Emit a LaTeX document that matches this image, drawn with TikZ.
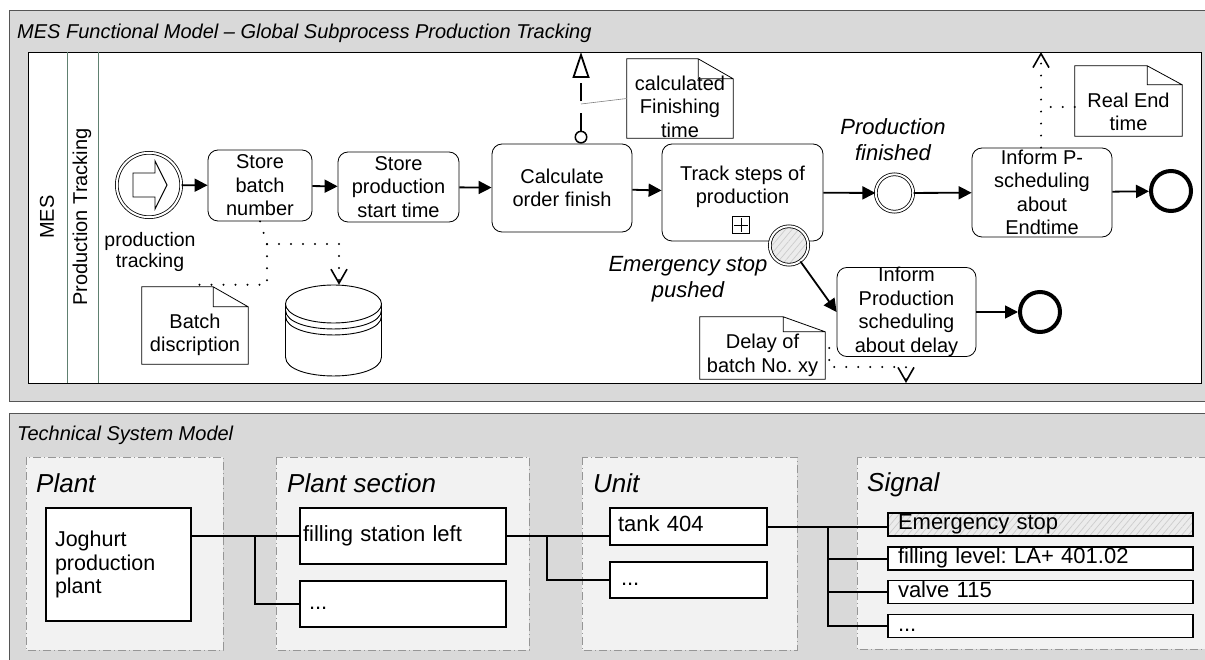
\documentclass[tikz,border=0pt]{standalone}
\usepackage{fontspec}
\setmainfont{Liberation Sans}
\usetikzlibrary{calc}
\usetikzlibrary{arrows.meta}
\usetikzlibrary{patterns.meta}
\definecolor{panelgray}{RGB}{217,217,217}
\definecolor{panelline}{RGB}{85,85,85}
\definecolor{contfill}{RGB}{242,242,242}
\definecolor{contline}{RGB}{150,150,150}
\definecolor{laneline}{RGB}{96,128,112}
\definecolor{hatchfill}{RGB}{236,236,236}
\frenchspacing

\begin{document}
\begin{tikzpicture}[x=1pt, y=-1pt,
        panel/.style={draw=panelline, fill=panelgray, line width=1pt},
        title/.style={anchor=base west, inner sep=0pt, font=\itshape\fontsize{20}{24}\selectfont},
        task/.style={draw, rounded corners=10pt, fill=white, align=center, inner sep=0pt, line width=0.8pt, font=\fontsize{20}{23.5}\selectfont},
        txt/.style={align=center, inner sep=0pt, font=\fontsize{20}{23.5}\selectfont},
        evlabel/.style={align=center, inner sep=0pt, font=\itshape\fontsize{22}{26}\selectfont},
        event/.style={circle, draw, fill=white, inner sep=0pt, line width=0.8pt, double, double distance=2pt, minimum size=#1},
        endevent/.style={circle, draw, fill=white, inner sep=0pt, line width=4pt, minimum size=40pt},
        hatched/.style={preaction={fill=hatchfill}, preaction={pattern={Lines[angle=50,distance=5pt,line width=0.7pt]}, pattern color=gray!40}},
        doc/.style={inner sep=0pt},
        seq/.style={line width=1.8pt, -{Triangle[length=13pt,width=13pt]}},
        msgflow/.style={line width=1.8pt, dash pattern=on 18pt off 12pt, {Circle[length=13pt,width=13pt,fill=white,line width=1.5pt]}-{Triangle[length=26pt,width=17pt,fill=white,line width=1.8pt]}},
        assoc/.style={draw=gray, line width=0.6pt},
        dotflow/.style={line width=2.2pt, dash pattern=on 0pt off 12pt, line cap=round},
        vtip/.style={-{Straight Barb[length=14pt,width=16pt,line width=1.6pt]}},
        container/.style={draw=contline, fill=contfill, line width=0.8pt, dash pattern=on 8pt off 3pt on 1pt off 3pt},
        grouplabel/.style={anchor=base west, inner sep=0pt, font=\itshape\fontsize{26}{30}\selectfont},
        sysbox/.style={draw, fill=white, line width=1.1pt, align=left, inner ysep=0pt, font=\fontsize{22}{23.5}\selectfont},
        oneline/.style={text height=15pt, text depth=4.5pt},
        tree/.style={line width=2pt}]
    \useasboundingbox (0,0) rectangle (1205,660);
    \clip (0,0) rectangle (1205,660);

    \draw[panel] (9,11) rectangle (1215,401);
    \draw[panel] (9,413) rectangle (1215,670);
    \node[title] (t1) at (17,39) {MES Functional Model – Global Subprocess Production Tracking};
    \node[title] (t2) at (17,440) {Technical System Model};

    \draw[line width=0.8pt, fill=white] (28,52) rectangle (1201,383);
    \draw[laneline, line width=0.8pt] (67,52) -- (67,383) (98,52) -- (98,383);
    \node[txt, rotate=90] (pool) at (47,217) {MES};
    \node[txt, rotate=90] (lane) at (82,217) {Production Tracking};

    \node[event=64.4pt] (st) at (149,185) {};
    \draw[line width=0.9pt, fill=white] ($(st)+(-16,-12)$) -- ++(22,0) -- ++(0,-12) -- ++(12,24)
        -- ++(-12,24) -- ++(0,-12) -- ++(-22,0) -- cycle;
    \node[txt, font=\fontsize{19.5}{21.5}\selectfont] (stl) at (150,252) {production\\tracking};

    \node[task, minimum width=104pt, minimum height=71pt] (sb) at (260,185.5) {Store\\batch\\number};
    \node[task, minimum width=121pt, minimum height=70pt] (sp) at (398.5,187) {Store\\production\\start time};
    \node[task, minimum width=140pt, minimum height=88pt] (cf) at (562,188) {Calculate\\order finish};
    \node[task, minimum width=161pt, minimum height=97pt] (ts) at (742.5,192.5) {};
    \node[txt] (tst) at (742.5,187) {Track steps of\\production};
    \node[draw, line width=0.8pt, minimum size=17pt, inner sep=0pt] (mk) at (741,225) {};
    \draw[line width=0.8pt] ([yshift=-2pt]mk.north) -- ([yshift=2pt]mk.south)
        ([xshift=2pt]mk.west) -- ([xshift=-2pt]mk.east);
    \node[event=37.4pt] (pf) at (894.5,193) {};
    \node[evlabel] (pfl) at (893,140) {Production\\finished};
    \node[task, minimum width=140pt, minimum height=89pt] (ipe) at (1042,192.5) {Inform P-\\scheduling\\about\\Endtime};
    \node[endevent] (e1) at (1171,191) {};
    \node[event=38.4pt, fill=none, hatched] (be) at (789,245.5) {};
    \node[evlabel] (bel) at (688,279.3) {Emergency stop\\pushed};
    \node[task, minimum width=139pt, minimum height=88pt] (ip) at (906.5,312) {Inform\\Production\\scheduling\\about delay};
    \node[endevent] (e2) at (1040,312) {};

    \node[doc, minimum width=106pt, minimum height=77pt] (bd) at (195,325.5) {};
    \node[doc, minimum width=106pt, minimum height=79pt] (cft) at (680,98.5) {};
    \node[doc, minimum width=107pt, minimum height=70pt] (ret) at (1128.5,101) {};
    \node[doc, minimum width=125pt, minimum height=62pt] (dly) at (762.5,348) {};
    \foreach \d/\fx/\fy in {bd/35/20, cft/35/20, ret/35/19, dly/42/15}
        \draw[line width=0.8pt, fill=white] (\d.north west) -- ([xshift=-\fx pt]\d.north east)
            -- ([yshift=-\fy pt]\d.north east) |- (\d.south west) -- cycle
            ([xshift=-\fx pt]\d.north east) |- ([yshift=-\fy pt]\d.north east);
    \node[txt] (bdt) at (195,335) {Batch\\discription};
    \node[txt] (cftt) at (680,106.5) {calculated\\Finishing\\time};
    \node[txt] (rett) at (1128.5,112) {Real End\\time};
    \node[txt] (dlyt) at (762.5,355.5) {Delay of\\batch No. xy};

    \node[inner sep=0pt, minimum width=96pt, minimum height=91pt] (ds) at (333.5,330.5) {};
    \draw[line width=0.9pt, fill=white] (285.5,304) -- (285.5,357)
        .. controls (285.5,382.3) and (381.5,382.3) .. (381.5,357) -- (381.5,304);
    \draw[line width=0.9pt, fill=white] (333.5,304) ellipse [x radius=48, y radius=19];
    \foreach \o in {6,12}
        \draw[line width=0.9pt] (285.5,304+\o) .. controls (285.5,329.3+\o) and (381.5,329.3+\o) .. (381.5,304+\o);

    \draw[seq] (st) -- (sb);
    \draw[seq] (sb) -- (sp);
    \draw[seq] (sp) -- (cf);
    \draw[seq] (cf) -- (ts);
    \draw[seq] (ts) -- (pf);
    \draw[seq] (pf) -- (ipe);
    \draw[seq] (ipe) -- (e1);
    \draw[seq] (be) -- (ip.west);
    \draw[seq] (ip) -- (e2);

    \coordinate (m1) at (581,52);
    \coordinate (m1a) at (581,104);
    \draw[msgflow] (m1 |- cf.north) -- (m1);
    \draw[assoc] (m1a) -- (cft.west);
    \coordinate (m2) at (1041,52);
    \draw[dotflow, vtip] (m2 |- ipe.north) -- (m2);
    \draw[dotflow] ([yshift=-6pt]ret.west) -- ++(-30,0);
    \coordinate (m3) at (906,383);
    \draw[dotflow, vtip] ([xshift=4pt]dly.east) -- ++(0,19) -| (m3);
    \coordinate (j1) at (267,244);
    \draw[dotflow] (sb.south) -- (j1) |- ([yshift=2pt]bd.north);
    \draw[dotflow, vtip] (j1) -| ([xshift=5.5pt]ds.north);

    \draw[container] (26,457) rectangle (223,650);
    \draw[container] (276,457) rectangle (529,650);
    \draw[container] (582,457) rectangle (797,650);
    \draw[container] (857,457) rectangle (1215,649);
    \node[grouplabel] (gpl) at (36,492) {Plant};
    \node[grouplabel] (gps) at (287,492) {Plant section};
    \node[grouplabel] (gun) at (593,492) {Unit};
    \node[grouplabel] (gsg) at (867,491) {Signal};

    \node[sysbox, text width=127pt, inner xsep=9pt, minimum height=113pt, font=\fontsize{21.5}{23.5}\selectfont] (jp) at (118.5,564.5) {Joghurt\\production\\plant};
    \node[sysbox, oneline, text width=200pt, inner xsep=3pt, minimum height=56pt] (fsl) at (403,536) {filling station left};
    \node[sysbox, oneline, text width=188pt, inner xsep=9pt, minimum height=46pt] (fs2) at (403,604) {...};
    \node[sysbox, oneline, text width=141pt, inner xsep=8pt, minimum height=37pt] (tk) at (688.5,526.5) {tank 404};
    \node[sysbox, oneline, text width=135pt, inner xsep=11pt, minimum height=36pt] (tk2) at (688.5,580) {...};
    \node[sysbox, oneline, text width=285pt, inner xsep=10pt, minimum height=23pt, fill=none, hatched] (es) at (1040.5,524.5) {Emergency stop};
    \node[sysbox, oneline, text width=285pt, inner xsep=10pt, minimum height=23pt] (fl) at (1040.5,558.5) {filling level: LA+ 401.02};
    \node[sysbox, oneline, text width=285pt, inner xsep=10pt, minimum height=23pt] (vl) at (1040.5,592) {valve 115};
    \node[sysbox, oneline, text width=285pt, inner xsep=10pt, minimum height=23pt] (sd) at (1040.5,626) {...};

    \coordinate (b1) at (255,0);
    \coordinate (b2) at (547,0);
    \coordinate (b3) at (828,0);
    \draw[tree] (jp.east |- fsl) -- (fsl.west) (b1 |- fsl) |- (fs2.west);
    \draw[tree] (fsl.east) -- (fsl.east -| tk.west) (b2 |- fsl) |- (tk2.west);
    \draw[tree] (tk.east) -- (tk.east -| es.west);
    \foreach \s in {fl,vl,sd}
        \draw[tree] (b3 |- tk.east) |- (\s.west);
\end{tikzpicture}
\end{document}
